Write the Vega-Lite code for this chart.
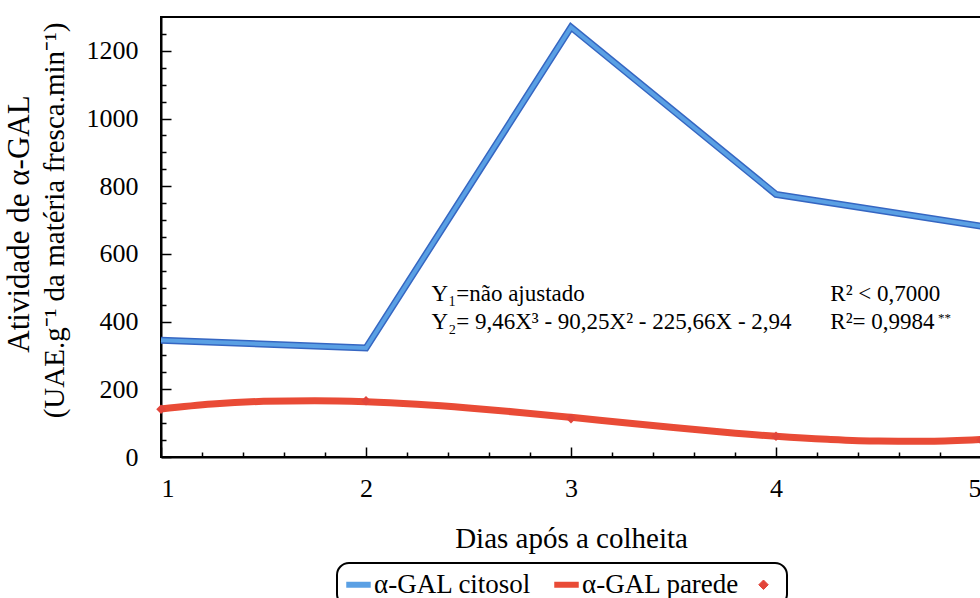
{
  "$schema": "https://vega.github.io/schema/vega-lite/v6.json",
  "width": 820,
  "height": 440,
  "autosize": {"type": "none"},
  "padding": {"left": 161, "top": 17, "right": 0, "bottom": 141},
  "background": "white",
  "title": {
    "text": "Atividade de α-GAL",
    "orient": "left",
    "anchor": "middle",
    "font": "Liberation Serif",
    "fontSize": 31,
    "fontWeight": "normal",
    "color": "black",
    "offset": 4,
    "dx": 13
  },
  "config": {
    "font": "Liberation Serif",
    "view": {"stroke": "black", "strokeWidth": 2},
    "text": {"font": "Liberation Serif"},
    "legend": {"labelFont": "Liberation Serif", "titleFont": "Liberation Serif"},
    "axis": {
      "domainColor": "black",
      "domainWidth": 2,
      "tickColor": "black",
      "tickWidth": 1.5,
      "grid": false,
      "labelFont": "Liberation Serif",
      "labelFontSize": 26,
      "labelColor": "black",
      "titleFont": "Liberation Serif",
      "titleFontSize": 29,
      "titleFontWeight": "normal",
      "titleColor": "black",
      "labelOverlap": false
    }
  },
  "datasets": {
    "citosol": [
      {"dia": 1, "atividade": 345, "serie": "α-GAL citosol"},
      {"dia": 2, "atividade": 322, "serie": "α-GAL citosol"},
      {"dia": 3, "atividade": 1270, "serie": "α-GAL citosol"},
      {"dia": 4, "atividade": 776, "serie": "α-GAL citosol"},
      {"dia": 5, "atividade": 682, "serie": "α-GAL citosol"}
    ],
    "parede_ajuste": [
      {"dia": 1.0, "atividade": 141.9, "serie": "α-GAL parede"},
      {"dia": 1.25, "atividade": 156.6, "serie": "α-GAL parede"},
      {"dia": 1.5, "atividade": 164.4, "serie": "α-GAL parede"},
      {"dia": 1.75, "atividade": 166.3, "serie": "α-GAL parede"},
      {"dia": 2.0, "atividade": 163.1, "serie": "α-GAL parede"},
      {"dia": 2.25, "atividade": 155.7, "serie": "α-GAL parede"},
      {"dia": 2.5, "atividade": 145.0, "serie": "α-GAL parede"},
      {"dia": 2.75, "atividade": 131.8, "serie": "α-GAL parede"},
      {"dia": 3.0, "atividade": 117.2, "serie": "α-GAL parede"},
      {"dia": 3.25, "atividade": 101.9, "serie": "α-GAL parede"},
      {"dia": 3.5, "atividade": 86.9, "serie": "α-GAL parede"},
      {"dia": 3.75, "atividade": 73.0, "serie": "α-GAL parede"},
      {"dia": 4.0, "atividade": 61.1, "serie": "α-GAL parede"},
      {"dia": 4.25, "atividade": 52.2, "serie": "α-GAL parede"},
      {"dia": 4.5, "atividade": 47.0, "serie": "α-GAL parede"},
      {"dia": 4.75, "atividade": 46.5, "serie": "α-GAL parede"},
      {"dia": 5.0, "atividade": 51.6, "serie": "α-GAL parede"}
    ],
    "parede_obs": [
      {"dia": 1, "atividade": 141, "serie": "obs"},
      {"dia": 2, "atividade": 166, "serie": "obs"},
      {"dia": 3, "atividade": 113, "serie": "obs"},
      {"dia": 4, "atividade": 61, "serie": "obs"},
      {"dia": 5, "atividade": 50, "serie": "obs"}
    ],
    "equacoes": [
      {"dia": 2.32, "atividade": 462, "texto": "Y₁=não ajustado"},
      {"dia": 2.32, "atividade": 378, "texto": "Y₂= 9,46X³ - 90,25X² - 225,66X - 2,94"},
      {"dia": 4.265, "atividade": 462, "texto": "R² < 0,7000"},
      {"dia": 4.265, "atividade": 378, "texto": "R²= 0,9984"}
    ],
    "signif": [
      {"dia": 4.79, "atividade": 400, "texto": "**"}
    ]
  },
  "encoding": {
    "x": {
      "field": "dia",
      "type": "quantitative",
      "scale": {"domain": [1, 5], "nice": false, "zero": false},
      "axis": {
        "title": "Dias após a colheita",
        "values": [1, 1.2, 1.4, 1.6, 1.8, 2, 2.2, 2.4, 2.6, 2.8, 3, 3.2, 3.4, 3.6, 3.8, 4, 4.2, 4.4, 4.6, 4.8, 5],
        "labelExpr": "datum.value % 1 === 0 ? format(datum.value, 'd') : ''",
        "tickSize": {"condition": {"test": "datum.value % 1 === 0", "value": -10}, "value": -5},
        "labelPadding": 28,
        "titlePadding": 18
      }
    },
    "y": {
      "field": "atividade",
      "type": "quantitative",
      "scale": {"domain": [0, 1300], "nice": false},
      "axis": {
        "title": "(UAE.g⁻¹ da matéria fresca.min⁻¹)",
        "values": [0, 50, 100, 150, 200, 250, 300, 350, 400, 450, 500, 550, 600, 650, 700, 750, 800, 850, 900, 950, 1000, 1050, 1100, 1150, 1200, 1250],
        "labelExpr": "datum.value % 200 === 0 ? format(datum.value, 'd') : ''",
        "tickSize": {"condition": {"test": "datum.value % 200 === 0", "value": -10}, "value": -5},
        "labelPadding": 33,
        "titlePadding": 17,
        "titleY": 203
      }
    }
  },
  "layer": [
    {
      "data": {"name": "citosol"},
      "mark": {"type": "line", "color": "#3566c2", "strokeWidth": 7, "strokeJoin": "miter"}
    },
    {
      "data": {"name": "citosol"},
      "mark": {"type": "line", "strokeWidth": 4, "strokeJoin": "miter"},
      "encoding": {
        "color": {
          "field": "serie",
          "type": "nominal",
          "scale": {
            "domain": ["α-GAL citosol", "α-GAL parede", "obs"],
            "range": ["#5aa0e4", "#e94b36", "#e2453a"]
          },
          "legend": {
            "orient": "none",
            "legendX": 176,
            "legendY": 546,
            "direction": "horizontal",
            "title": null,
            "labelFont": "Liberation Serif",
            "labelFontSize": 27,
            "labelColor": "black",
            "labelOffset": 2,
            "labelExpr": "datum.value === 'obs' ? '' : datum.label",
            "columnPadding": 10,
            "padding": 8,
            "symbolSize": 600,
            "symbolStrokeWidth": 6,
            "strokeColor": "black",
            "fillColor": "white",
            "cornerRadius": 12,
            "encode": {
              "legend": {"update": {"strokeWidth": {"value": 2}}},
              "symbols": {
                "update": {
                  "shape": {"signal": "datum.value === 'obs' ? 'diamond' : 'stroke'"},
                  "size": {"signal": "datum.value === 'obs' ? 90 : 600"},
                  "strokeWidth": {"signal": "datum.value === 'obs' ? 1 : 6"},
                  "fill": {"scale": "color", "field": "value"},
                  "stroke": {"scale": "color", "field": "value"},
                  "opacity": {"value": 1}
                }
              }
            }
          }
        }
      }
    },
    {
      "data": {"name": "parede_ajuste"},
      "mark": {"type": "line", "strokeWidth": 7, "interpolate": "monotone"},
      "encoding": {
        "color": {"field": "serie", "type": "nominal"}
      }
    },
    {
      "data": {"name": "parede_obs"},
      "mark": {"type": "point", "shape": "diamond", "filled": true, "size": 90, "opacity": 1},
      "encoding": {
        "color": {"field": "serie", "type": "nominal"}
      }
    },
    {
      "data": {"name": "equacoes"},
      "mark": {"type": "text", "align": "left", "baseline": "alphabetic", "font": "Liberation Serif", "fontSize": 23, "color": "black"},
      "encoding": {"text": {"field": "texto"}}
    },
    {
      "data": {"name": "signif"},
      "mark": {"type": "text", "align": "left", "baseline": "alphabetic", "font": "Liberation Serif", "fontSize": 13, "color": "black"},
      "encoding": {"text": {"field": "texto"}}
    }
  ]
}
